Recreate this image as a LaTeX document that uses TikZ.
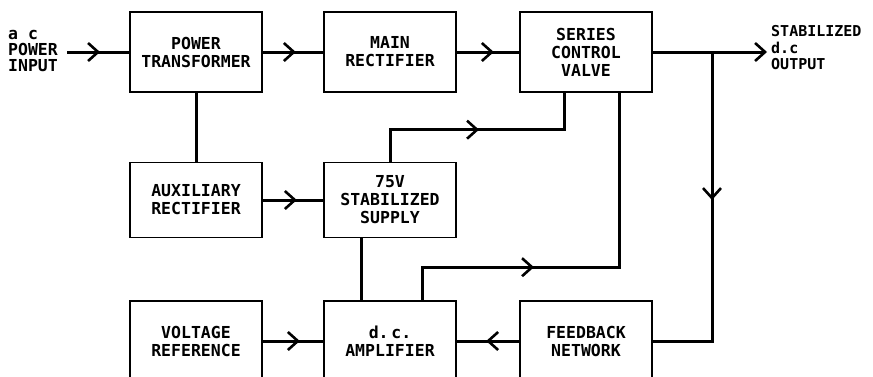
\documentclass[tikz,border=0pt]{standalone}
\usepackage{fontspec}
\newfontfamily\blockfont{DejaVu Sans Mono}
\usetikzlibrary{arrows.meta,decorations.markings}
\begin{document}
\begin{tikzpicture}[x=1pt,y=-1pt,
	blk/.style={draw,line width=1.6pt,minimum width=132pt,minimum height=80pt,align=center,inner sep=0pt,font=\blockfont\bfseries\fontsize{16.5}{18}\selectfont},
	lbl/.style={align=left,inner sep=0pt,font=\blockfont\bfseries\fontsize{15}{16.5}\selectfont},
	wire/.style={line width=3pt},
	chev/.tip={Straight Barb[length=10pt,width=18pt,line width=2.6pt]},
	flow/.style={wire,postaction={decorate},decoration={markings,mark=at position #1 with {\arrow{chev}}}}]
	\useasboundingbox (0,0) rectangle (873,376); \clip (0,0) rectangle (873,376);
	\node[blk] (pt) at (196,52) {POWER\\TRANSFORMER}; \node[blk] (mr) at (390,52) {MAIN\\RECTIFIER}; \node[blk] (scv) at (586,52) {SERIES\\CONTROL\\VALVE};
	\node[blk,minimum height=75pt] (aux) at (196,200) {AUXILIARY\\RECTIFIER}; \node[blk,minimum height=75pt] (sup) at (390,200) {75V\\STABILIZED\\SUPPLY};
	\node[blk] (vref) at (196,341) {VOLTAGE\\REFERENCE}; \node[blk] (amp) at (390,341) {d.\,c.\\AMPLIFIER}; \node[blk] (fb) at (586,341) {FEEDBACK\\NETWORK};
	\node[lbl,anchor=west,font=\blockfont\bfseries\fontsize{16.5}{16}\selectfont] (in) at (8,51) {a c\\POWER\\INPUT}; \node[lbl,anchor=west] (out) at (771,48) {STABILIZED\\d.c\\OUTPUT};
	\coordinate (inp) at (67,52); \coordinate (outp) at (767,52); \coordinate (tap) at (712,52);
	\draw[flow=33pt] (inp) -- (pt); \draw[flow=33pt] (pt) -- (mr); \draw[flow=37pt] (mr) -- (scv); \draw[wire,-chev] (scv) -- (outp);
	\draw[wire] (pt) -- (aux); \draw[flow=34pt] (aux) -- (sup); \draw[wire] ([xshift=-29pt]sup.south) -- ([xshift=-29pt]amp.north);
	\draw[flow=37pt] (vref) -- (amp); \draw[flow=33pt] (fb) -- (amp); \draw[flow=148pt] (tap) |- (fb);
	\draw[flow=121pt] (sup.north) -- ++(0,-32) -| ([xshift=-22pt]scv.south);
	\draw[flow=145pt] ([xshift=32pt]amp.north) -- ++(0,-33) -| ([xshift=33pt]scv.south);
\end{tikzpicture}
\end{document}
